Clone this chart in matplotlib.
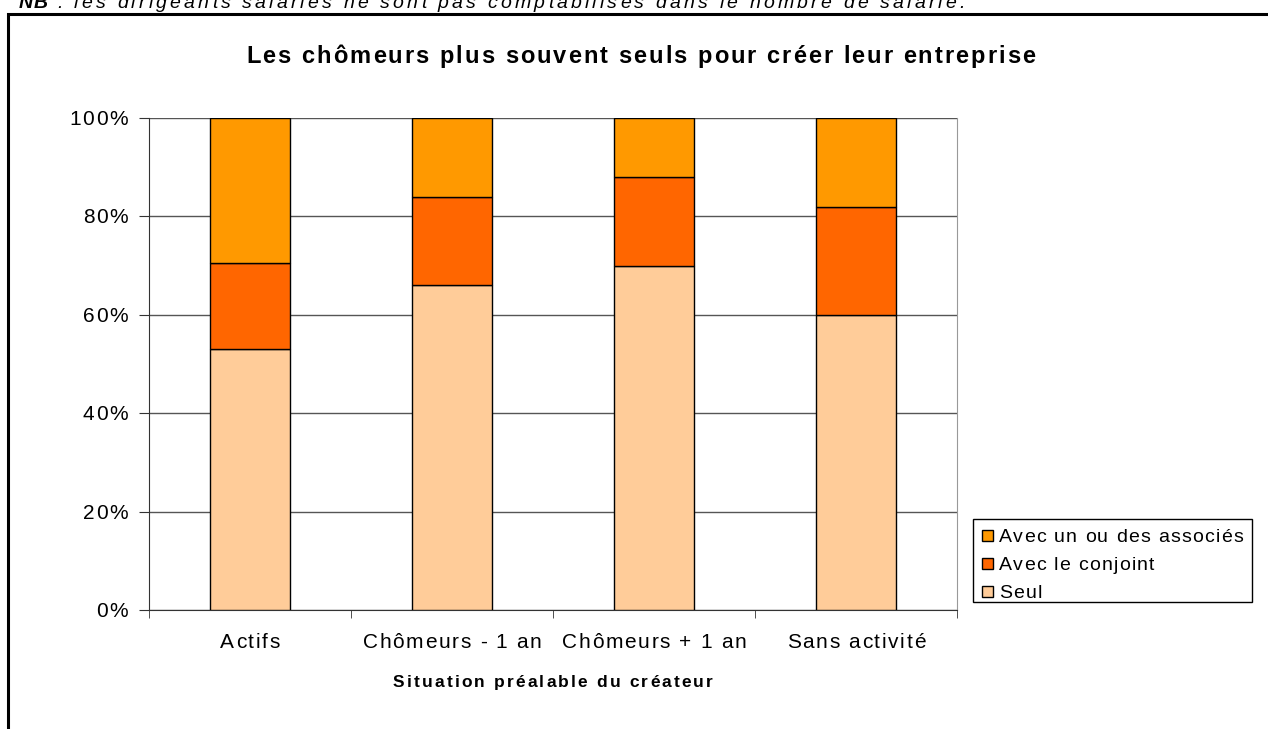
import matplotlib
matplotlib.use("Agg")
import matplotlib.pyplot as plt
from matplotlib.patches import Rectangle
from matplotlib.font_manager import FontProperties
import numpy as np

FAM = ['Liberation Sans', 'DejaVu Sans']
plt.rcParams['font.family'] = FAM

categories = ["Actifs", "Chômeurs - 1 an", "Chômeurs + 1 an", "Sans activité"]
seul = [53, 66, 70, 60]
conjoint = [17.5, 18, 18, 22]
associes = [29.5, 16, 12, 18]
series_labels = ["Seul", "Avec le conjoint", "Avec un ou des associés"]
colors = ["#FFCC99", "#FF6600", "#FF9900"]
yticks = [0, 20, 40, 60, 80, 100]
title = "Les chômeurs plus souvent seuls pour créer leur entreprise"
xlabel = "Situation préalable du créateur"
note_bold = "NB"
note_rest = " : les dirigeants salariés ne sont pas comptabilisés dans le nombre de salarié."

W, H = 1268, 729
fig = plt.figure(figsize=(W/100, H/100), dpi=100)
renderer = fig.canvas.get_renderer()


def adv(c, prop):
    w1 = renderer.get_text_width_height_descent("|" + c + "|", prop, ismath=False)[0]
    w0 = renderer.get_text_width_height_descent("||", prop, ismath=False)[0]
    return w1 - w0


def tracked(x, y, s, size, weight="normal", style="normal", track=0.0, width=None,
            ha="left", color="black", draw=True):
    """Draw text with letter spacing; x, y in pixels from top-left, y = baseline.
    Returns (right edge, tracking used)."""
    prop = FontProperties(family=FAM, size=size, weight=weight, style=style)
    advs = [adv(c, prop) for c in s]
    nat = sum(advs)
    if width is not None and len(s) > 1:
        track = (width - nat) / (len(s) - 1)
    total = nat + track * (len(s) - 1)
    if ha == "center":
        x0 = x - total / 2
    elif ha == "right":
        x0 = x - total
    else:
        x0 = x
    pos = x0
    if draw:
        for c, a in zip(s, advs):
            if c != " ":
                fig.text(pos / W, 1 - y / H, c, fontproperties=prop, ha="left",
                         va="baseline", color=color)
            pos += a + track
    return x0 + total, track


# outer frame (cut at right and bottom)
fig.patches.append(Rectangle((8/W, -0.1), 1.2, (H-14)/H + 0.1, transform=fig.transFigure,
                             fill=False, edgecolor="black", linewidth=2.2))

# clipped note at the top
xe, _ = tracked(19, 7.5, note_bold, 14, weight="bold", style="italic", track=1.0)
tracked(xe, 7.5, note_rest, 14, style="italic", width=965 - xe)

ax = fig.add_axes([149/W, (H-610)/H, 808/W, 492/H])
x = np.arange(len(categories))
bottom = np.zeros(len(categories))
for vals, lab, col in zip([seul, conjoint, associes], series_labels, colors):
    ax.bar(x, vals, width=0.4, bottom=bottom, color=col, edgecolor="black", linewidth=1.0,
           label=lab, zorder=3)
    bottom += np.array(vals)

ax.set_xlim(-0.5, len(categories) - 0.5)
ax.set_ylim(0, 100)
ax.set_yticks(yticks)
ax.set_yticklabels([])
ax.yaxis.grid(True, color="#555555", linewidth=1.0, zorder=0)
ax.set_xticks(x)
ax.set_xticklabels([])
ax.tick_params(axis="x", length=0)
ax.set_xticks(np.arange(-0.5, len(categories)), minor=True)
ax.tick_params(axis="x", which="minor", length=6, color="#333333", direction="out")
ax.tick_params(axis="y", length=7, color="#333333", direction="out")
for s in ["left", "bottom"]:
    ax.spines[s].set_color("#333333")
ax.spines["right"].set_color("#999999")
ax.spines["top"].set_visible(False)

TICK_FS = 15
_, tick_track = tracked(0, 0, "Chômeurs - 1 an", TICK_FS, width=179, draw=False)

# tick labels placed through the axes transform
for xi, cat in zip(x, categories):
    px = ax.transData.transform((xi, 0))[0]
    tracked(px, 648, cat, TICK_FS, track=tick_track, ha="center")
for v in yticks:
    py = H - ax.transData.transform((0, v))[1]
    tracked(128, py + 7, f"{v}%", TICK_FS, track=tick_track, ha="right")

tracked(553, 687, xlabel, 12.5, weight="bold", width=320, ha="center")
tracked(640.5, 63, title, 17, weight="bold", width=789, ha="center")

# legend
LEG_FS = 14
_, leg_track = tracked(0, 0, series_labels[-1], LEG_FS, width=244, draw=False)
fig.patches.append(Rectangle((973/W, 1 - 602/H), (1252-973)/W, (602-519)/H,
                             transform=fig.transFigure, fill=True, facecolor="white",
                             edgecolor="black", linewidth=1.0))
leg_y = [535, 563, 591]
for yy, lab, col in zip(leg_y, series_labels[::-1], colors[::-1]):
    fig.patches.append(Rectangle((982/W, 1 - (yy + 5.5)/H), 11/W, 11/H,
                                 transform=fig.transFigure, facecolor=col,
                                 edgecolor="black", linewidth=1.0))
    tracked(999, yy + 7, lab, LEG_FS, track=leg_track)

fig.savefig("out.png", dpi=100)
